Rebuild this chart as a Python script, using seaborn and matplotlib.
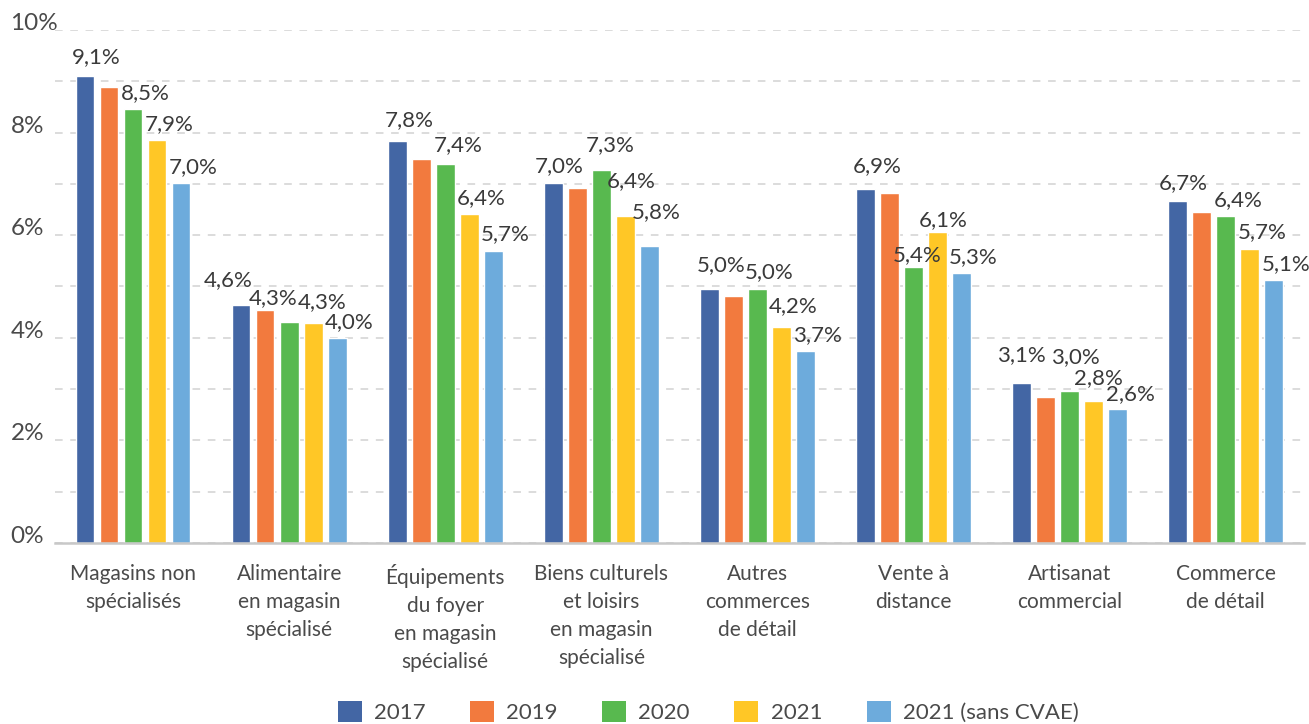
import numpy as np
import pandas as pd
import matplotlib
matplotlib.use("Agg")
import matplotlib.pyplot as plt
from matplotlib.ticker import MultipleLocator, FuncFormatter
from matplotlib.patches import Patch
import seaborn as sns

CATEGORIES = [
    "Magasins non\nspécialisés",
    "Alimentaire\nen magasin\nspécialisé",
    "Équipements\ndu foyer\nen magasin\nspécialisé",
    "Biens culturels\net loisirs\nen magasin\nspécialisé",
    "Autres\ncommerces\nde détail",
    "Vente à\ndistance",
    "Artisanat\ncommercial",
    "Commerce\nde détail",
]
SERIES = ["2017", "2019", "2020", "2021", "2021 (sans CVAE)"]

V_2017 = [9.10, 4.64, 7.83, 7.01, 4.96, 6.90, 3.12, 6.66]
V_2019 = [8.89, 4.55, 7.49, 6.92, 4.81, 6.83, 2.85, 6.46]
V_2020 = [8.46, 4.31, 7.38, 7.27, 4.96, 5.38, 2.96, 6.38]
V_2021 = [7.86, 4.29, 6.42, 6.38, 4.21, 6.06, 2.77, 5.74]
V_2021_SANS = [7.01, 4.00, 5.70, 5.79, 3.74, 5.26, 2.62, 5.13]

# 2019 bars carry no value label in the original
LABELLED = ["2017", "2020", "2021", "2021 (sans CVAE)"]

COLORS = ["#4366a4", "#f27a3e", "#58b94f", "#ffc726", "#6dabdc"]
TEXT = "#3a3a3a"

# hand-placed label nudges (pixels), default is (12, 10)
NUDGE = {
    ("2017", 0): (11, 13),
    ("2017", 1): (-13, 19), ("2020", 1): (-16, 18), ("2021", 1): (9, 15),
    ("2017", 2): (12, 15), ("2020", 2): (13, 13),
    ("2017", 3): (6, 11), ("2020", 3): (9, 19), ("2021", 3): (6, 29),
    ("2021 (sans CVAE)", 3): (7, 28),
    ("2017", 4): (12, 17), ("2021", 4): (12, 15),
    ("2017", 5): (12, 17), ("2020", 5): (4, 6), ("2021", 5): (6, 6),
    ("2017", 6): (0, 22), ("2020", 6): (6, 28), ("2021", 6): (5, 17),
    ("2021 (sans CVAE)", 6): (13, 8),
    ("2017", 7): (6, 12),
}

values = [V_2017, V_2019, V_2020, V_2021, V_2021_SANS]
df = pd.DataFrame({
    "categorie": CATEGORIES * len(SERIES),
    "serie": np.repeat(SERIES, len(CATEGORIES)),
    "taux": np.concatenate(values),
})

sns.set_theme(style="white")
plt.rcParams["font.family"] = ["Lato", "DejaVu Sans"]

fig = plt.figure(figsize=(13.09, 7.24), dpi=100)
ax = fig.add_axes([0.042, 0.25, 0.954, 0.7086])

sns.barplot(data=df, x="categorie", y="taux", hue="serie",
            order=CATEGORIES, hue_order=SERIES, palette=COLORS,
            saturation=1, width=0.77, gap=0.22, ax=ax, legend=False, zorder=3)

ax.set_ylim(0, 10)
ax.set_xlim(-0.5, len(CATEGORIES) - 0.5)
ax.yaxis.set_major_locator(MultipleLocator(2))
ax.yaxis.set_minor_locator(MultipleLocator(1))
ax.yaxis.set_major_formatter(FuncFormatter(lambda v, p: f"{v:.0f}%"))
ax.grid(axis="y", which="both", color="#d2d2d2", linestyle=(0, (5, 5)), linewidth=1.1, zorder=0)
ax.set_axisbelow(True)

for s in ["top", "right", "left"]:
    ax.spines[s].set_visible(False)
ax.spines["bottom"].set_color("#c8c8c8")
ax.spines["bottom"].set_linewidth(1.8)
ax.spines["bottom"].set_zorder(4)

# y labels sit left-aligned at the figure edge, resting on their gridline
ax.tick_params(axis="y", which="both", length=0, pad=32, labelsize=17.5, labelcolor="#4a4a4a")
for t in ax.get_yticklabels():
    t.set_horizontalalignment("left")
    t.set_verticalalignment("baseline")
ax.tick_params(axis="x", length=0, pad=15, labelsize=15, labelcolor="#4a4a4a")
for t in ax.get_xticklabels():
    t.set_linespacing(1.5)
    t.set_verticalalignment("top")
ax.set_xlabel("")
ax.set_ylabel("")

for serie, cont in zip(SERIES, ax.containers):
    if serie not in LABELLED:
        continue
    for i, bar in enumerate(cont):
        h = bar.get_height()
        dx, dy = NUDGE.get((serie, i), (12, 10))
        ax.annotate(f"{h:.1f}%".replace(".", ","),
                    xy=(bar.get_x() + bar.get_width() / 2, h),
                    xytext=(dx, dy), textcoords="offset pixels",
                    ha="center", va="baseline", fontsize=16, color=TEXT,
                    zorder=5)

handles = [Patch(facecolor=c, edgecolor="none") for c in COLORS]
fig.legend(handles, SERIES, loc="center", bbox_to_anchor=(0.541, 0.017),
           ncol=len(SERIES), frameon=False, fontsize=16,
           labelcolor="#4a4a4a", handlelength=1.08, handleheight=1.08,
           handletextpad=0.55, columnspacing=2.0)

fig.savefig("out.png", dpi=100)
